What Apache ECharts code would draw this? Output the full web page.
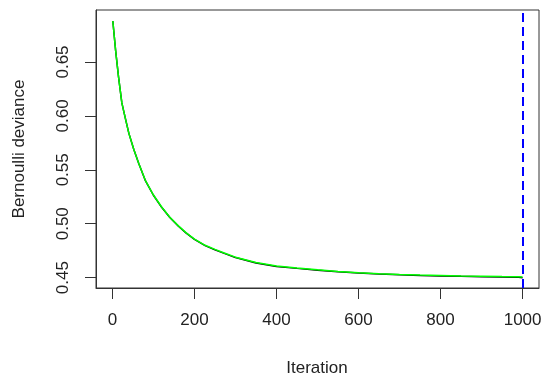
<!DOCTYPE html>
<html>
<head>
<meta charset="utf-8">
<script src="https://cdn.jsdelivr.net/npm/echarts@6/dist/echarts.min.js"></script>
<style>html,body{margin:0;padding:0;background:#fff}#c{width:550px;height:384px}</style>
</head>
<body>
<div id="c"></div>
<script>
// Data
var iterations = [1, 8, 15, 23, 32, 40, 52, 64, 80, 100, 120, 140, 161, 180, 200, 226, 250, 271, 300, 350, 400, 450, 500, 550, 600, 650, 700, 750, 800, 850, 900, 950, 990, 1000];
var testDeviance = [0.688, 0.660, 0.636, 0.612, 0.597, 0.584, 0.569, 0.556, 0.5405, 0.5266, 0.5155, 0.5060, 0.4980, 0.4915, 0.4858, 0.4800, 0.4762, 0.4731, 0.4690, 0.4640, 0.4608, 0.4590, 0.4573, 0.4558, 0.4546, 0.4537, 0.4530, 0.4524, 0.4520, 0.4516, 0.4513, 0.4510, 0.4508, 0.4505];
var trainDeviance = [0.688, 0.660, 0.636, 0.612, 0.597, 0.584, 0.569, 0.556, 0.5403, 0.5264, 0.5152, 0.5057, 0.4977, 0.4912, 0.4855, 0.4797, 0.4758, 0.4727, 0.4686, 0.4636, 0.4604, 0.4586, 0.4569, 0.4554, 0.4542, 0.4533, 0.4526, 0.4520, 0.4516, 0.4512, 0.4509, 0.4506, 0.4503, 0.4500];
var bestIteration = 1000;
var xTicks = [0, 200, 400, 600, 800, 1000];
var yTicks = [0.45, 0.50, 0.55, 0.60, 0.65];
var xLabel = 'Iteration';
var yLabel = 'Bernoulli deviance';

var FONT = "'Liberation Sans', Arial, sans-serif";
function pairs(xs, ys) { return xs.map(function (x, i) { return [x, ys[i]]; }); }

var chart = echarts.init(document.getElementById('c'), null, { renderer: 'canvas' });
chart.setOption({
  animation: false,
  backgroundColor: '#ffffff',
  grid: { left: 96, top: 10, width: 443, height: 278, show: true, borderColor: '#333', borderWidth: 1, backgroundColor: 'transparent' },
  xAxis: {
    type: 'value', min: -40, max: 1040,
    axisLine: { show: true, onZero: false, lineStyle: { color: '#333', width: 1 } },
    splitLine: { show: false },
    axisTick: { show: true, inside: false, length: 11, customValues: xTicks, lineStyle: { color: '#333', width: 1 } },
    axisLabel: { customValues: xTicks, margin: 24, fontSize: 17, fontFamily: FONT, color: '#222',
      formatter: function (v) { return String(v); } }
  },
  yAxis: {
    type: 'value', min: 0.4404, max: 0.6982,
    axisLine: { show: true, onZero: false, lineStyle: { color: '#333', width: 1 } },
    splitLine: { show: false },
    axisTick: { show: true, inside: false, length: 11, customValues: yTicks, lineStyle: { color: '#333', width: 1 } },
    axisLabel: { customValues: yTicks, rotate: 90, margin: 24, fontSize: 17, fontFamily: FONT, color: '#222',
      formatter: function (v) { return v.toFixed(2); } }
  },
  graphic: [
    { type: 'text', x: 317, y: 368, style: { text: xLabel, font: '17px ' + FONT, fill: '#222', align: 'center', verticalAlign: 'middle' } },
    { type: 'text', rotation: Math.PI / 2, x: 19, y: 149, style: { text: yLabel, font: '17px ' + FONT, fill: '#222', align: 'center', verticalAlign: 'middle' } }
  ],
  series: [
    { type: 'line', name: 'train', data: pairs(iterations, trainDeviance), showSymbol: false, lineStyle: { color: '#000', width: 1.5 }, z: 2 },
    { type: 'line', name: 'test', data: pairs(iterations, testDeviance), showSymbol: false, lineStyle: { color: '#00ff00', width: 1.5 }, z: 3,
      markLine: { silent: true, symbol: 'none', label: { show: false },
        lineStyle: { color: '#0000ff', width: 2, type: [9, 5] },
        data: [{ xAxis: bestIteration }] } }
  ]
});
</script>
</body>
</html>
